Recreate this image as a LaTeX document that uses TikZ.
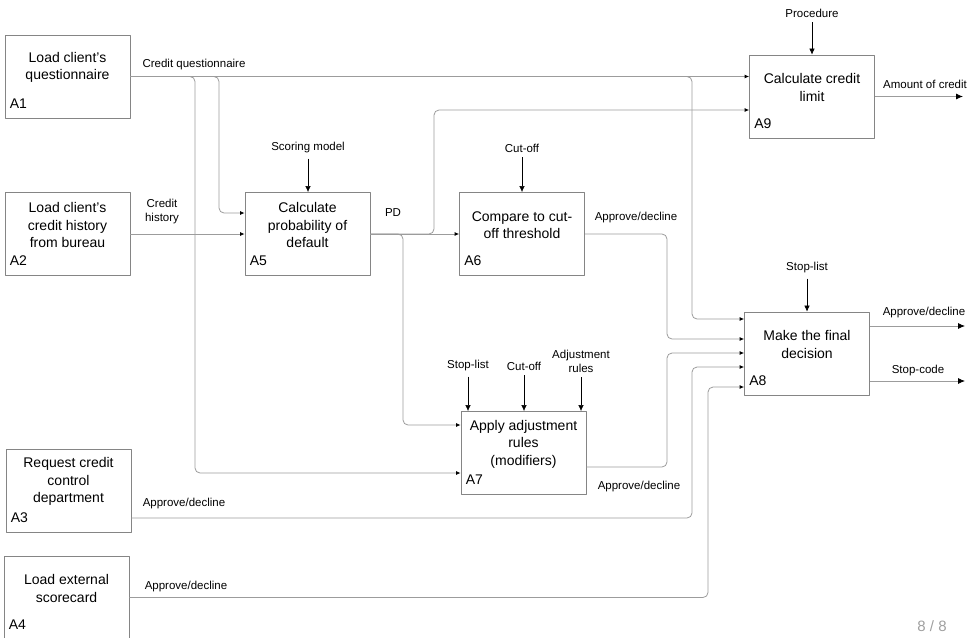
\documentclass[tikz,border=0pt]{standalone}
\usepackage{fontspec}
\setmainfont{Liberation Sans}
\usetikzlibrary{arrows.meta,positioning}
\definecolor{boxgray}{HTML}{858585}
\definecolor{linegray}{HTML}{9C9C9C}
\tikzset{
	proc/.style={draw=boxgray, line width=0.8pt, minimum width=125pt, minimum height=83pt, inner sep=0pt},
	proctext/.style={align=center, font=\fontsize{14}{17.5}\selectfont, inner sep=0pt},
	idtag/.style={anchor=base west, font=\fontsize{14}{17}\selectfont, inner sep=0pt},
	lbl/.style={align=center, font=\fontsize{11.5}{14}\selectfont, inner sep=1pt},
	flow/.style={draw=linegray, line width=0.8pt, rounded corners=5pt, -{Latex[color=black,length=4.5pt,width=4pt]}},
	ctrl/.style={draw=black, line width=0.6pt, -{Latex[length=6pt,width=5.5pt]}},
	outflow/.style={draw=linegray, line width=0.8pt, -{Latex[color=black,length=7pt,width=6pt]}}
}
\begin{document}
\begin{tikzpicture}[x=1pt, y=-1pt, line join=round]
				\useasboundingbox (0,0) rectangle (968,637);
				\foreach \id/\cx/\cy/\idt/\txt in {a1/67.5/76.5/A1/{Load client's\\questionnaire}, a2/67.5/234/A2/{Load client's\\credit history\\from bureau}, a3/68.5/490.5/A3/{Request credit\\control\\department}, a4/66.5/597.5/A4/{Load external\\scorecard}, a5/307.5/234/A5/{Calculate\\probability of\\default}, a6/522/234/A6/{Compare to cut-\\off threshold}, a7/523.5/453/A7/{Apply adjustment\\rules\\(modifiers)}, a8/807/353.5/A8/{Make the final\\decision}, a9/812/96.5/A9/{Calculate credit\\limit}}
				{
					\node[proc] (\id) at (\cx,\cy) {};
					\node[proctext] (t\id) at (\cx,\cy-9) {\txt};
					\node[idtag] (n\id) at ([shift={(5,-10)}]\id.south west) {\idt};
				}
				\draw[flow] (a1.east) -- (a9.west |- a1.east);
				\draw[flow] (a1.east) -- (219,76.5) |- ([yshift=21pt]a5.west);
				\draw[flow] (a1.east) -- (195,76.5) |- ([yshift=-20pt]a7.west);
				\draw[flow] (a1.east) -- (692,76.5) |- ([yshift=34.5pt]a8.west);
				\draw[flow] (a2.east) -- (a5.west);
				\draw[flow] (a5.east) -- (a6.west);
				\draw[flow] (a5.east) -- (434,234) |- ([yshift=-13.5pt]a9.west);
				\draw[flow] (a5.east) -- (403,234) |- ([yshift=28pt]a7.west);
				\draw[flow] (a6.east) -- (667,234) |- ([yshift=14.5pt]a8.west);
				\draw[flow] ([yshift=-14pt]a7.east) -- (667,467) |- ([yshift=0.5pt]a8.west);
				\draw[flow] ([yshift=-27.5pt]a3.east) -- (692,518) |- ([yshift=-13.5pt]a8.west);
				\draw[flow] (a4.east) -- (708,597.5) |- ([yshift=-33.5pt]a8.west);
				\node[lbl] (cq) at (194,65) {Credit questionnaire};
				\node[lbl] (ch) at (162,212) {Credit\\history};
				\node[lbl] (pd) at (393,213) {PD};
				\node[lbl] (ad6) at (636,218) {Approve/decline};
				\node[lbl] (ad7) at (639,487) {Approve/decline};
				\node[lbl] (ad3) at (184,504) {Approve/decline};
				\node[lbl] (ad4) at (186,587) {Approve/decline};
				\node[lbl] (proc9) at (812,13) {Procedure};
				\node[lbl] (score5) at (308,148) {Scoring model};
				\node[lbl] (cut6) at (522,148) {Cut-off};
				\node[lbl] (stop8) at (807,268) {Stop-list};
				\node[lbl] (stop7) at (468,366) {Stop-list};
				\node[lbl] (cut7) at (524,366) {Cut-off};
				\node[lbl] (adj7) at (581,361) {Adjustment\\rules};
				\foreach \c/\b in {proc9/a9, score5/a5, cut6/a6, stop8/a8, stop7/a7, cut7/a7, adj7/a7}\draw[ctrl] ([yshift=-4pt]\c.south) -- (\c.south |- \b.north);
				\coordinate (o9) at (963,96.5);
				\coordinate (o8a) at (965,326);
				\coordinate (o8b) at (965,381);
				\draw[outflow] (a9.east) -- (o9);
				\draw[outflow] ([yshift=27.5pt]a8.east) -- (o8a);
				\draw[outflow] ([yshift=-27.5pt]a8.east) -- (o8b);
				\node[lbl] (amt9) at (925,84) {Amount of credit};
				\node[lbl] (ad8) at (924,313) {Approve/decline};
				\node[lbl] (sc8) at (918,371) {Stop-code};
				\node[font=\fontsize{15}{17}\selectfont, text=gray!75, inner sep=0pt] (pg) at (932,626) {8 / 8};
	\end{tikzpicture}
\end{document}
